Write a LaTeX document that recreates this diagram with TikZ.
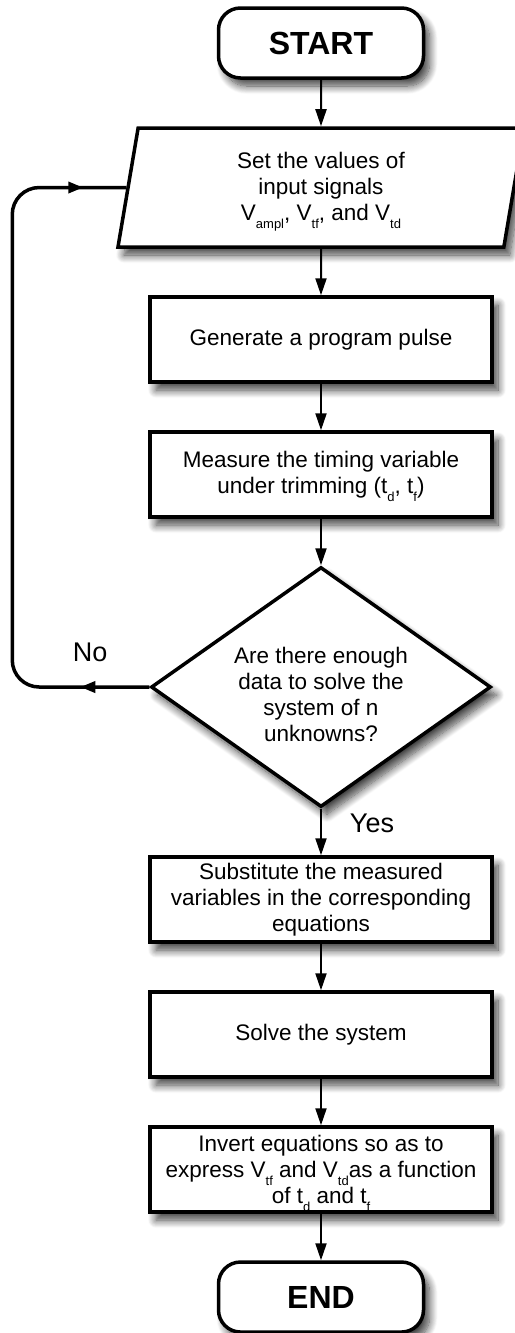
\documentclass[tikz,border=0pt]{standalone}
\usepackage{fontspec}
\setmainfont{Liberation Sans}
\usetikzlibrary{arrows.meta,calc,positioning,shapes.geometric,decorations.markings,shadows.blur}
\newcommand{\lowsub}[1]{\raisebox{-8pt}[0pt][0pt]{\fontsize{13}{13}\selectfont #1}}
\tikzset{%
  link/.style={-{Triangle[length=17pt,width=11pt]},line width=2pt},
  shade box/.style={blur shadow={shadow xshift=6pt,shadow yshift=-8pt,shadow blur radius=8pt,shadow blur steps=12,shadow opacity=75}},
  term/.style={rectangle, rounded corners=22pt, draw, line width=3.5pt, fill=white, minimum width=205pt, minimum height=70pt, font=\fontsize{32}{32}\selectfont\bfseries, shade box},
  io/.style={trapezium, trapezium left angle=75, trapezium right angle=105, trapezium stretches body, draw, line width=3.5pt, fill=white, minimum width=406pt, minimum height=119pt, align=center, inner sep=2pt, shade box},
  proc/.style={rectangle, draw, line width=3.5pt, fill=white, minimum width=342pt, minimum height=85pt, align=center, inner sep=2pt, shade box},
  test/.style={diamond, aspect=1.5, draw, line width=3.5pt, fill=white, minimum width=340pt, minimum height=240pt, align=center, inner sep=0pt, shade box},
  lbl/.style={font=\fontsize{27}{27}\selectfont},
  back/.style={line width=3.5pt, rounded corners=27pt, postaction={decorate},
    decoration={markings,
      mark=at position 69pt with {\arrow{Triangle[length=15pt,width=11pt]}},
      mark=at position -43pt with {\arrow{Triangle[length=15pt,width=11pt]}}}}
}
\begin{document}
\begin{tikzpicture}[font=\fontsize{22.5}{26}\selectfont, node distance=46.5pt]

 \useasboundingbox (0,0) rectangle (514pt,-1333pt);

 \node[term] (start) at (321pt,-43pt) {START};
 \node[io, below=of start] (input) {Set the values of\\input signals\\V\lowsub{ampl}, V\lowsub{tf}, and V\lowsub{td}};
 \node[proc, below=of input] (pulse) {Generate a program pulse};
 \node[proc, below=of pulse] (measure) {Measure the timing variable\\under trimming (t\lowsub{d}, t\lowsub{f})};
 \node[test, below=of measure] (enough) {\rule{0pt}{32pt}Are there enough\\data to solve the\\system of n\\unknowns?};
 \node[proc, below=of enough] (subst) {Substitute the measured\\variables in the corresponding\\equations};
 \node[proc, below=of subst] (solve) {Solve the system};
 \node[proc, below=of solve] (invert) {Invert equations so as to\\express V\lowsub{tf} and V\lowsub{td}as a function\\of t\lowsub{d} and t\lowsub{f}};
 \node[term, below=of invert] (end) {END};

 \node[lbl] (no) at ($(enough.west)+(-59pt,35pt)$) {No};
 \node[lbl] (yes) at ($(enough.south)+(51pt,-15pt)$) {Yes};

 \draw[link] (start) -- (input);
 \draw[link] (input) -- (pulse);
 \draw[link] (pulse) -- (measure);
 \draw[link] (measure) -- (enough);
 \draw[link] (enough) -- (subst);
 \draw[link] (subst) -- (solve);
 \draw[link] (solve) -- (invert);
 \draw[link] (invert) -- (end);

 % loop back when there are not enough data
 \draw[back] (enough.west) -- ++(-137pt,0) |- (input.west);

\end{tikzpicture}
\end{document}
